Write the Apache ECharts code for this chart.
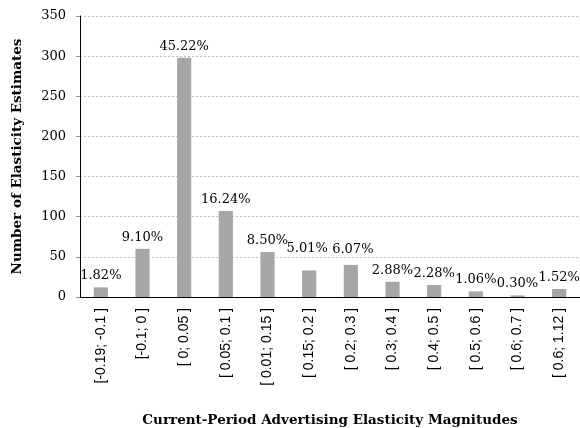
<!DOCTYPE html>
<html>
<head>
<meta charset="utf-8">
<script src="https://cdn.jsdelivr.net/npm/echarts@6/dist/echarts.min.js"></script>
<style>html,body{margin:0;padding:0;background:#fff;}#c{width:580px;height:428px;}</style>
</head>
<body>
<div id="c"></div>
<script>
var categories = ["[-0.19; -0.1 ]", "[-0.1; 0 ]", "[ 0; 0.05 ]", "[ 0.05; 0.1 ]", "[ 0.01; 0.15 ]", "[ 0.15; 0.2 ]", "[ 0.2; 0.3 ]", "[ 0.3; 0.4 ]", "[ 0.4; 0.5 ]", "[ 0.5; 0.6 ]", "[ 0.6; 0.7 ]", "[ 0.6; 1.12 ]"];
var counts = [12, 60, 298, 107, 56, 33, 40, 19, 15, 7, 2, 10];
var percentLabels = ["1.82%", "9.10%", "45.22%", "16.24%", "8.50%", "5.01%", "6.07%", "2.88%", "2.28%", "1.06%", "0.30%", "1.52%"];
var yTicks = [0, 50, 100, 150, 200, 250, 300, 350];

var serif = '"DejaVu Serif", Georgia, serif';
var labelShift = {5: [-2, -10], 6: [2, -4]};
var chart = echarts.init(document.getElementById('c'), null, {renderer: 'canvas'});
chart.setOption({
  animation: false,
  grid: {left: 80, right: 0, top: 16, bottom: 131, containLabel: false, outerBoundsMode: 'none'},
  xAxis: {
    type: 'category',
    data: categories,
    name: 'Current-Period Advertising Elasticity Magnitudes',
    nameLocation: 'middle',
    nameGap: 116,
    nameTextStyle: {fontFamily: serif, fontWeight: 'bold', fontSize: 13.5, color: '#000'},
    axisLine: {lineStyle: {color: '#000', width: 1}},
    axisTick: {show: false},
    axisLabel: {rotate: 90, interval: 0, margin: 11, fontFamily: '"Liberation Sans", Arial, sans-serif', fontSize: 14, color: '#000'}
  },
  yAxis: {
    type: 'value',
    min: yTicks[0],
    max: yTicks[yTicks.length - 1],
    interval: 50,
    name: 'Number of Elasticity Estimates',
    nameLocation: 'middle',
    nameGap: 56,
    nameTextStyle: {fontFamily: serif, fontWeight: 'bold', fontSize: 13.5, color: '#000'},
    axisLine: {show: true, lineStyle: {color: '#000', width: 1}},
    axisTick: {show: true, length: 4, lineStyle: {color: '#999'}},
    axisLabel: {fontFamily: serif, fontSize: 13, color: '#000', margin: 14},
    splitLine: {lineStyle: {color: '#bfbfbf', type: [2, 2], width: 1}}
  },
  series: [{
    type: 'bar',
    barWidth: '34%',
    itemStyle: {color: '#a6a6a6'},
    data: counts.map(function (v, i) {
      return {
        value: v,
        label: {offset: labelShift[i] || [0, 0]}
      };
    }),
    label: {
      show: true,
      position: 'top',
      distance: 5,
      fontFamily: serif,
      fontSize: 13,
      color: '#000',
      formatter: function (p) { return percentLabels[p.dataIndex]; }
    }
  }]
});
</script>
</body>
</html>
